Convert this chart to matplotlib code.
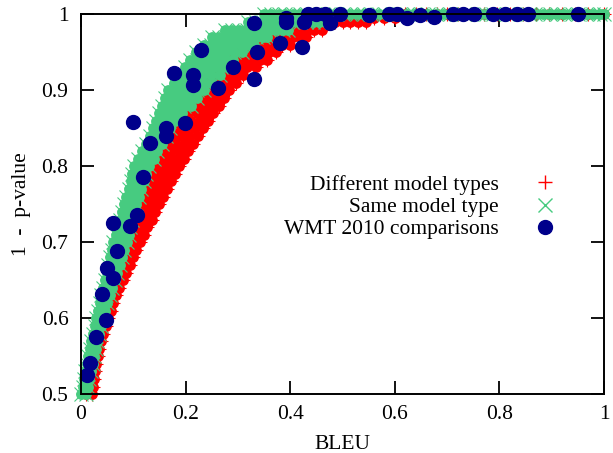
import matplotlib
matplotlib.use("Agg")
import matplotlib.pyplot as plt
from matplotlib.lines import Line2D

plt.rcParams['font.family'] = ['Liberation Serif', 'DejaVu Serif']

RED = '#ff0000'
GREEN = '#47cb80'
BLUE = '#00008b'

# simulated comparisons, stored one p-value level per row with the BLEU gaps at that level
diff_pval = [0.50, 0.51, 0.52, 0.53, 0.54, 0.55, 0.56, 0.57, 0.58, 0.59,
             0.60, 0.61, 0.62, 0.63, 0.64, 0.65, 0.66, 0.67, 0.68, 0.69,
             0.70, 0.71, 0.72, 0.73, 0.74, 0.75, 0.76, 0.77, 0.78, 0.79,
             0.80, 0.81, 0.82, 0.83, 0.84, 0.85, 0.86, 0.87, 0.88, 0.89,
             0.90, 0.91, 0.92, 0.93, 0.94, 0.95, 0.96, 0.97, 0.98, 0.99,
             0.995, 1.00]
diff_bleu = [
    [0.010, 0.021], [0.013, 0.023], [0.015, 0.025], [0.018, 0.027], [0.021, 0.029],
    [0.024, 0.032], [0.027, 0.035], [0.030, 0.038], [0.033, 0.042], [0.036, 0.047],
    [0.040, 0.052], [0.044, 0.057], [0.048, 0.062], [0.052, 0.067], [0.057, 0.072],
    [0.062, 0.071, 0.080], [0.068, 0.078, 0.086], [0.072, 0.083, 0.093],
    [0.077, 0.089, 0.099], [0.082, 0.094, 0.106], [0.086, 0.099, 0.112],
    [0.090, 0.102, 0.114, 0.120], [0.094, 0.106, 0.118, 0.127],
    [0.097, 0.110, 0.123, 0.135], [0.100, 0.113, 0.127, 0.142],
    [0.104, 0.117, 0.131, 0.144, 0.150], [0.108, 0.121, 0.134, 0.147, 0.157],
    [0.113, 0.126, 0.139, 0.152, 0.165], [0.118, 0.131, 0.145, 0.159, 0.172],
    [0.123, 0.136, 0.150, 0.165, 0.180], [0.128, 0.142, 0.157, 0.172, 0.187],
    [0.136, 0.151, 0.166, 0.181, 0.196], [0.143, 0.158, 0.173, 0.189, 0.205],
    [0.152, 0.167, 0.182, 0.198, 0.214], [0.160, 0.175, 0.191, 0.207, 0.223],
    [0.167, 0.183, 0.199, 0.216, 0.233], [0.176, 0.193, 0.210, 0.227, 0.243],
    [0.189, 0.205, 0.221, 0.237, 0.253], [0.205, 0.220, 0.235, 0.249, 0.263],
    [0.217, 0.231, 0.245, 0.259, 0.273], [0.230, 0.244, 0.258, 0.271, 0.283],
    [0.243, 0.257, 0.270, 0.283, 0.296], [0.260, 0.273, 0.286, 0.298, 0.310],
    [0.275, 0.289, 0.303, 0.318, 0.334], [0.286, 0.300, 0.314, 0.328, 0.342, 0.355],
    [0.303, 0.317, 0.331, 0.345, 0.359, 0.373], [0.325, 0.340, 0.355, 0.370, 0.385, 0.400],
    [0.350, 0.364, 0.378, 0.392, 0.406, 0.418, 0.430],
    [0.390, 0.404, 0.418, 0.432, 0.446, 0.460],
    [0.455, 0.470, 0.485, 0.500, 0.515, 0.530, 0.545],
    [0.520, 0.540, 0.560, 0.580, 0.600],
    [0.620, 0.640, 0.660, 0.680, 0.700, 0.720, 0.745, 0.770, 0.795, 0.820, 0.845,
     0.870, 0.895, 0.920, 0.945, 0.970, 1.000],
]

same_pval = [0.50, 0.51, 0.52, 0.53, 0.54, 0.55, 0.56, 0.57, 0.58, 0.59,
             0.60, 0.61, 0.62, 0.63, 0.64, 0.65, 0.66, 0.67, 0.68, 0.69,
             0.70, 0.71, 0.72, 0.73, 0.74, 0.75, 0.76, 0.77, 0.78, 0.79,
             0.80, 0.81, 0.82, 0.83, 0.84, 0.85, 0.86, 0.87, 0.88, 0.89,
             0.90, 0.91, 0.92, 0.93, 0.94, 0.95, 0.96, 0.97, 0.98, 0.99, 1.00]
same_bleu = [
    [0.000, 0.010], [0.003, 0.013], [0.006, 0.016], [0.008, 0.019], [0.011, 0.022],
    [0.014, 0.025], [0.017, 0.028], [0.020, 0.031], [0.023, 0.035], [0.026, 0.038],
    [0.029, 0.042], [0.032, 0.046], [0.036, 0.050],
    [0.039, 0.047, 0.055], [0.043, 0.051, 0.060], [0.046, 0.055, 0.065],
    [0.049, 0.059, 0.069], [0.052, 0.063, 0.074], [0.055, 0.066, 0.078],
    [0.059, 0.070, 0.082], [0.062, 0.074, 0.087], [0.066, 0.078, 0.091],
    [0.070, 0.082, 0.094], [0.074, 0.086, 0.098], [0.078, 0.090, 0.101],
    [0.082, 0.094, 0.105], [0.086, 0.098, 0.110], [0.091, 0.103, 0.115],
    [0.095, 0.107, 0.120], [0.098, 0.111, 0.125], [0.102, 0.116, 0.130],
    [0.109, 0.124, 0.139], [0.117, 0.131, 0.146], [0.125, 0.140, 0.155],
    [0.131, 0.147, 0.163], [0.138, 0.154, 0.170],
    [0.143, 0.155, 0.168, 0.180], [0.149, 0.163, 0.178, 0.193],
    [0.154, 0.168, 0.182, 0.196, 0.210], [0.160, 0.175, 0.190, 0.206, 0.222],
    [0.167, 0.181, 0.195, 0.209, 0.222, 0.235],
    [0.177, 0.191, 0.205, 0.219, 0.234, 0.248],
    [0.187, 0.201, 0.216, 0.231, 0.248, 0.266],
    [0.198, 0.212, 0.226, 0.240, 0.254, 0.267, 0.280],
    [0.208, 0.222, 0.236, 0.250, 0.263, 0.277, 0.290],
    [0.220, 0.234, 0.248, 0.262, 0.276, 0.292, 0.308],
    [0.235, 0.249, 0.263, 0.277, 0.291, 0.305, 0.318, 0.330],
    [0.250, 0.264, 0.278, 0.292, 0.306, 0.320, 0.334, 0.348, 0.355],
    [0.275, 0.289, 0.303, 0.317, 0.331, 0.345, 0.359, 0.373, 0.386, 0.395],
    [0.320, 0.334, 0.348, 0.362, 0.376, 0.390, 0.404, 0.418, 0.431, 0.444, 0.456, 0.466],
    [0.350, 0.364, 0.378, 0.391, 0.405, 0.419, 0.432, 0.446, 0.460, 0.473, 0.487,
     0.500, 0.514, 0.528, 0.541, 0.555, 0.569, 0.582, 0.596, 0.610, 0.623, 0.637,
     0.651, 0.664, 0.678, 0.692, 0.705, 0.719, 0.733, 0.746, 0.760, 0.774, 0.787,
     0.801, 0.815, 0.828, 0.842, 0.856, 0.869, 0.883, 0.897, 0.910, 0.924, 0.938,
     0.951, 0.965, 0.979, 0.992, 1.000],
]

# real system pairs from WMT 2010
wmt_bleu = [0.011, 0.018, 0.029, 0.048, 0.041, 0.062, 0.050, 0.069, 0.062, 0.094,
            0.108, 0.119, 0.100, 0.131, 0.162, 0.162, 0.178, 0.199, 0.215, 0.215,
            0.230, 0.262, 0.291, 0.331, 0.337, 0.331, 0.380, 0.392, 0.392, 0.422,
            0.426, 0.434, 0.450, 0.466, 0.476, 0.495, 0.551, 0.588, 0.604, 0.623,
            0.648, 0.674, 0.712, 0.731, 0.751, 0.788, 0.811, 0.833, 0.855, 0.951]
wmt_pval = [0.526, 0.541, 0.575, 0.598, 0.632, 0.653, 0.666, 0.688, 0.725, 0.722,
            0.736, 0.786, 0.858, 0.831, 0.851, 0.840, 0.923, 0.857, 0.920, 0.907,
            0.953, 0.903, 0.930, 0.915, 0.951, 0.989, 0.962, 0.995, 0.990, 0.957,
            0.990, 1.000, 1.000, 1.000, 0.988, 1.000, 0.999, 1.000, 1.000, 0.995,
            0.999, 0.997, 1.000, 1.000, 1.000, 1.000, 1.000, 1.000, 1.000, 1.000]

labels = ['Different model types', 'Same model type', 'WMT 2010 comparisons']


def flatten(levels, rows):
    xs, ys = [], []
    for y, row in zip(levels, rows):
        xs.extend(row)
        ys.extend([y] * len(row))
    return xs, ys


fig = plt.figure(figsize=(6.13, 4.53), dpi=100)
ax = fig.add_axes([81 / 613, 1 - 394.3 / 453, 523 / 613, 380 / 453])

for levels, rows, color, mk in [(diff_pval, diff_bleu, RED, '+'),
                                (same_pval, same_bleu, GREEN, 'x')]:
    xs, ys = flatten(levels, rows)
    # solid body of the cloud, then the thin glyphs that give it the ragged edge
    ax.plot(xs, ys, ls='none', marker='o', ms=7.8, mfc=color, mec='none', clip_on=False)
    ax.plot(xs, ys, ls='none', marker=mk, ms=10, mew=0.8, color=color, clip_on=False)

ax.plot(wmt_bleu, wmt_pval, ls='none', marker='o', ms=10, mfc=BLUE, mec=BLUE,
        clip_on=False)

ax.set_xlim(0, 1)
ax.set_ylim(0.5, 1)
xt = [0, 0.2, 0.4, 0.6, 0.8, 1]
yt = [0.5, 0.6, 0.7, 0.8, 0.9, 1]
ax.set_xticks(xt)
ax.set_xticklabels([f'{v:g}' for v in xt])
ax.set_yticks(yt)
ax.set_yticklabels([f'{v:g}' for v in yt])
ax.tick_params(direction='in', length=9.5, width=1.3, top=True, right=True,
               labelsize=15.5)
ax.tick_params(axis='x', pad=8)
ax.tick_params(axis='y', pad=9)
for sp in ax.spines.values():
    sp.set_linewidth(1.4)

ax.set_xlabel('BLEU', fontsize=15.5)
ax.set_ylabel('1  -  p-value', fontsize=15.5)
ax.xaxis.set_label_coords(0.5, -0.108)
ax.yaxis.set_label_coords(-0.095, 0.5)

handles = [Line2D([], [], ls='none', marker='+', ms=10, mew=1.0, color=RED),
           Line2D([], [], ls='none', marker='x', ms=10, mew=1.0, color=GREEN),
           Line2D([], [], ls='none', marker='o', ms=10, color=BLUE)]
ax.legend(handles, labels, loc='center right', bbox_to_anchor=(567 / 613, 1 - 207 / 453),
          bbox_transform=fig.transFigure, frameon=False, markerfirst=False,
          fontsize=15.5, handlelength=2, handletextpad=1.16, labelspacing=0.09,
          borderpad=0, borderaxespad=0)

fig.savefig('out.png', dpi=100)
